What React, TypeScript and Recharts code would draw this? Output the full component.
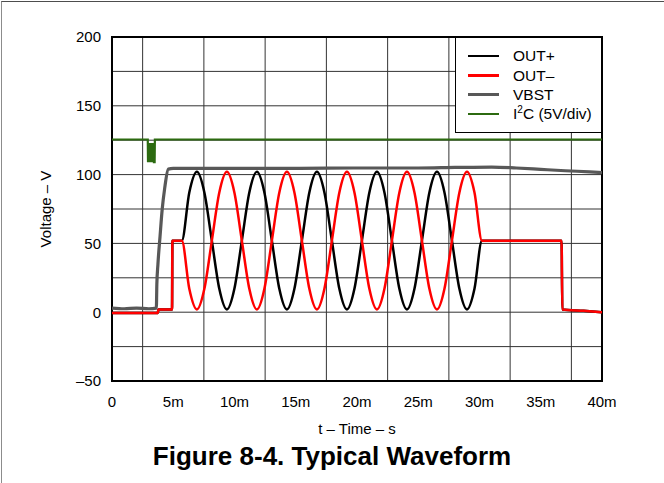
import { CartesianGrid, Label, Legend, Line, LineChart, ReferenceArea, XAxis, YAxis } from "recharts";

// time in ms, voltage in V
const timeTicks = [0, 5, 10, 15, 20, 25, 30, 35, 40];
const voltTicks = [-50, 0, 50, 100, 150, 200];
const gridTimes = [2.5, 5, 7.5, 10, 12.5, 15, 17.5, 20, 22.5, 25, 27.5, 30, 32.5, 35, 37.5];
const gridVolts = [-25, 0, 25, 50, 75, 100, 125, 150, 175];

// OUT+ and OUT- share the same sample times
const driveTime = [
  0, 1.8, 3.75, 3.78, 4.9, 4.93,
  5.7, 6.31, 6.93, 7.54, 8.15, 8.76, 9.38, 9.99,
  10.6, 11.21, 11.83, 12.44, 13.05, 13.66, 14.28, 14.89,
  15.5, 16.11, 16.73, 17.34, 17.95, 18.56, 19.18, 19.79,
  20.4, 21.01, 21.63, 22.24, 22.85, 23.46, 24.08, 24.69,
  25.3, 25.91, 26.53, 27.14, 27.75, 28.36, 28.98, 29.59,
  30.2, 33.5, 36.7, 36.76, 38.5, 40,
];
const outPlusVolt = [
  -0.5, -0.5, -0.5, 2, 2, 52,
  52, 87, 102, 87, 52, 17, 2, 17,
  52, 87, 102, 87, 52, 17, 2, 17,
  52, 87, 102, 87, 52, 17, 2, 17,
  52, 87, 102, 87, 52, 17, 2, 17,
  52, 87, 102, 87, 52, 17, 2, 17,
  52, 52, 52, 2, 1, 0,
];
const outMinusVolt = [
  -0.5, -0.5, -0.5, 2, 2, 52,
  52, 17, 2, 17, 52, 87, 102, 87,
  52, 17, 2, 17, 52, 87, 102, 87,
  52, 17, 2, 17, 52, 87, 102, 87,
  52, 17, 2, 17, 52, 87, 102, 87,
  52, 17, 2, 17, 52, 87, 102, 87,
  52, 52, 52, 2, 1, 0,
];

const vbstTime = [0, 1, 2, 3, 3.62, 3.66, 3.75, 3.92, 4.1, 4.3, 4.6, 5, 10, 15, 20, 25, 28, 31, 33, 35, 37, 39, 40];
const vbstVolt = [3, 2.5, 3, 2.5, 3, 20, 35, 55, 75, 90, 104, 104.5, 104.5, 104.5, 104.8, 104.8, 105.2, 105.5, 104.8, 103.8, 102.8, 102, 101.5];

const i2cTime = [0, 2.92, 2.94, 3.02, 3.1, 3.18, 3.26, 3.34, 3.42, 3.48, 3.5, 40];
const i2cVolt = [125.5, 125.5, 109, 123, 109, 123, 109, 123, 109, 109, 125.5, 125.5];

const zip = (t: number[], v: number[]) => t.map((time, i) => ({ t: time, v: v[i] }));

const outPlusData = zip(driveTime, outPlusVolt);
const outMinusData = zip(driveTime, outMinusVolt);
const vbstData = zip(vbstTime, vbstVolt);
const i2cData = zip(i2cTime, i2cVolt);

const font = "'Liberation Sans', Arial, Helvetica, sans-serif";

const legendItems = [
  { label: "OUT+", color: "#000000" },
  { label: "OUT–", color: "#ff0000" },
  { label: "VBST", color: "#585858" },
  { label: "I2C", color: "#2c6a10" },
];

function WaveLegend() {
  return (
    <div
      style={{
        boxSizing: "border-box",
        width: 147,
        height: 96,
        border: "1.5px solid #000",
        background: "#fff",
        paddingTop: 8.5,
        fontFamily: font,
        fontSize: 15.5,
        color: "#000",
      }}
    >
      {legendItems.map((item) => (
        <div key={item.label} style={{ display: "flex", alignItems: "center", height: 19.3 }}>
          <span style={{ marginLeft: 12, width: 31, height: 2.5, background: item.color }} />
          <span style={{ marginLeft: 14, lineHeight: 1, whiteSpace: "nowrap" }}>
            {item.label === "I2C" ? (
              <>
                I<span style={{ fontSize: 10, position: "relative", top: -6 }}>2</span>C (5V/div)
              </>
            ) : (
              item.label
            )}
          </span>
        </div>
      ))}
    </div>
  );
}

export default function App() {
  return (
    <div style={{ position: "absolute", left: 0, top: 0, width: 664, height: 483, background: "#fff", fontFamily: font }}>
      <div
        style={{
          position: "absolute",
          left: 1,
          top: 1,
          right: 0,
          bottom: 0,
          borderTop: "1.5px solid #4d4d4d",
          borderLeft: "1px solid #8c8c8c",
        }}
      />
      <LineChart width={664} height={483} margin={{ top: 37, right: 62, bottom: 62, left: 0 }}>
        <CartesianGrid verticalValues={gridTimes} horizontalValues={gridVolts} stroke="#333" strokeWidth={1} />
        <XAxis
          type="number"
          dataKey="t"
          domain={[0, 40]}
          ticks={timeTicks}
          allowDataOverflow
          height={40}
          tickSize={0}
          tickMargin={15}
          axisLine={false}
          tickLine={false}
          tick={{ fill: "#000", fontSize: 15, fontFamily: font }}
          tickFormatter={(v: number) => (v === 0 ? "0" : `${v}m`)}
        >
          <Label value="t – Time – s" position="bottom" offset={2} fill="#000" fontSize={15} fontFamily={font} />
        </XAxis>
        <YAxis
          type="number"
          dataKey="v"
          domain={[-50, 200]}
          ticks={voltTicks}
          allowDataOverflow
          width={112}
          tickSize={0}
          tickMargin={11}
          axisLine={false}
          tickLine={false}
          tick={{ fill: "#000", fontSize: 15, fontFamily: font }}
          tickFormatter={(v: number) => (v < 0 ? `–${Math.abs(v)}` : `${v}`)}
        >
          <Label
            content={() => (
              <text
                x={45}
                y={209}
                transform="rotate(-90 45 209)"
                textAnchor="middle"
                dominantBaseline="central"
                fill="#000"
                fontSize={15}
                fontFamily={font}
              >
                Voltage – V
              </text>
            )}
          />
        </YAxis>
        <ReferenceArea x1={0} x2={40} y1={-50} y2={200} fill="none" stroke="#000" strokeWidth={2} ifOverflow="visible" />
        <Line data={i2cData} dataKey="v" type="linear" stroke="#2c6a10" strokeWidth={2.2} dot={false} isAnimationActive={false} />
        <Line data={vbstData} dataKey="v" type="monotone" stroke="#585858" strokeWidth={3.2} dot={false} isAnimationActive={false} />
        <Line data={outPlusData} dataKey="v" type="monotone" stroke="#000000" strokeWidth={2.5} dot={false} isAnimationActive={false} />
        <Line data={outMinusData} dataKey="v" type="monotone" stroke="#ff0000" strokeWidth={2.5} dot={false} isAnimationActive={false} />
        <Legend
          layout="vertical"
          align="center"
          verticalAlign="middle"
          content={() => <WaveLegend />}
          wrapperStyle={{ left: 455, top: 37, width: 147, height: 96 }}
        />
      </LineChart>
      <div
        style={{
          position: "absolute",
          left: 0,
          top: 441,
          width: 664,
          textAlign: "center",
          fontSize: 26,
          fontWeight: "bold",
          lineHeight: "30px",
          color: "#000",
        }}
      >
        Figure 8-4. Typical Waveform
      </div>
    </div>
  );
}
